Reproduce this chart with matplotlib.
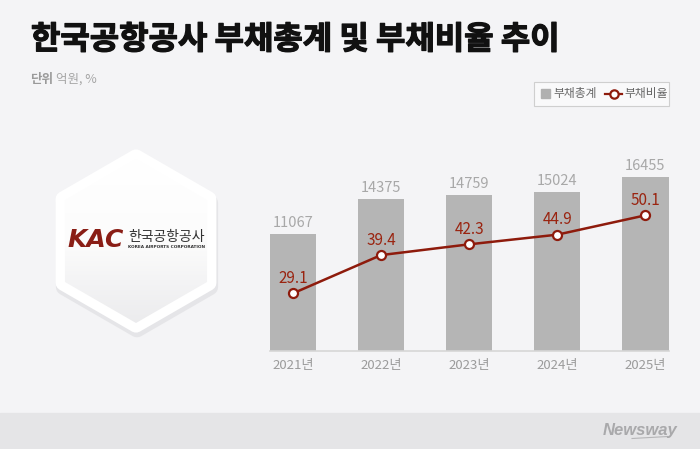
import matplotlib
matplotlib.use("Agg")
import matplotlib.pyplot as plt
import matplotlib.patheffects as pe
import numpy as np
from matplotlib.patches import Polygon, Rectangle
from matplotlib.lines import Line2D

plt.rcParams['font.family'] = ['Noto Sans CJK KR', 'DejaVu Sans']

years = ['2021년', '2022년', '2023년', '2024년', '2025년']
debt_total = [11067, 14375, 14759, 15024, 16455]
debt_ratio = [29.1, 39.4, 42.3, 44.9, 50.1]
title = '한국공항공사 부채총계 및 부채비율 추이'

W, H = 700, 449
BG = '#f4f4f6'
BAR = '#b5b5b5'
RED = '#8e1b0c'
RED_TXT = '#9a2410'

fig = plt.figure(figsize=(W / 100, H / 100), dpi=100, facecolor=BG)

# background axes in pixel coordinates
bg = fig.add_axes([0, 0, 1, 1])
bg.set_xlim(0, W)
bg.set_ylim(H, 0)
bg.axis('off')
bg.set_facecolor(BG)

# footer band
bg.add_patch(Rectangle((0, 413), W, 36, color='#e5e5e7', zorder=0))
bg.text(640, 430, 'Newsway', fontsize=12, color='#a9a9ab', style='italic',
        weight='bold', family=['Liberation Sans'], ha='center', va='center')
bg.add_line(Line2D([632, 668], [438.5, 436.5], color='#b5b5b7', lw=0.8))

# title
bg.text(31, 40, title, fontsize=23, weight='black', color='#111111',
        ha='left', va='center',
        path_effects=[pe.Stroke(linewidth=0.9, foreground='#111111'), pe.Normal()])
bg.text(30, 79, '단위', fontsize=9, weight='bold', color='#9a9a9a',
        ha='left', va='center')
bg.text(56, 79, '억원, %', fontsize=9, color='#a5a5a5', ha='left', va='center')

# legend box
bg.add_patch(Rectangle((534, 82), 135, 24, facecolor='#f9f9fa', edgecolor='#cfcfcf',
                       lw=0.8, zorder=1))
bg.add_patch(Rectangle((541, 89), 9, 9, color='#b0b0b0', zorder=2))
bg.text(553, 93.5, '부채총계', fontsize=8.5, color='#666666', ha='left', va='center')
bg.add_line(Line2D([605, 622], [93.5, 93.5], color=RED, lw=1.6, zorder=2))
bg.plot([613.5], [93.5], marker='o', ms=6, mfc='white', mec=RED, mew=1.6, zorder=3)
bg.text(624, 93.5, '부채비율', fontsize=8.5, color='#666666', ha='left', va='center')

# hexagon logo badge
cx, cy, R = 136, 241, 84
ang = np.deg2rad(np.arange(6) * 60 + 90)
hx = cx + R * np.cos(ang)
hy = cy - R * np.sin(ang)
# shadow
bg.add_patch(Polygon(np.c_[hx + 1, hy + 4], closed=True, facecolor='#dcdcdf',
                     edgecolor='#dcdcdf', lw=12, joinstyle='round', zorder=1, alpha=0.6))
bg.add_patch(Polygon(np.c_[hx, hy], closed=True, facecolor='white',
                     edgecolor='white', lw=11, joinstyle='round', zorder=2))
# inner gradient
Ri = R - 2
inner = Polygon(np.c_[cx + Ri * np.cos(ang), cy - Ri * np.sin(ang)],
                closed=True, facecolor='none', edgecolor='none', zorder=3)
bg.add_patch(inner)
grad = np.linspace(0, 1, 256).reshape(-1, 1)
cmap = matplotlib.colors.LinearSegmentedColormap.from_list(
    'g', ['#ffffff', '#fcfcfc', '#ebebed'])
im = bg.imshow(grad, extent=(cx - R, cx + R, cy + R, cy - R), cmap=cmap,
               aspect='auto', zorder=3, interpolation='bilinear')
im.set_clip_path(inner)
bg.set_xlim(0, W)
bg.set_ylim(H, 0)

bg.text(95.5, 240, 'KAC', fontsize=18, weight='heavy', style='italic', color='#8a1e16',
        family=['DejaVu Sans'], ha='center', va='center', zorder=5)
bg.text(166.5, 237.5, '한국공항공사', fontsize=10, weight='medium', color='#333333',
        ha='center', va='center', zorder=5)
bg.text(166.5, 247.5, 'KOREA AIRPORTS CORPORATION', fontsize=3.1, color='#333333',
        family=['DejaVu Sans'], weight='bold', ha='center', va='center', zorder=5)

# chart axes: x pixels 270..669, y pixels 140..351
x0, x1, ytop, ybot = 270, 669, 140, 351
ax = fig.add_axes([x0 / W, (H - ybot) / H, (x1 - x0) / W, (ybot - ytop) / H])
ax.patch.set_alpha(0)
x = np.arange(len(years))
ax.bar(x, debt_total, width=0.53, color=BAR, zorder=2)
ax.set_xlim(-0.261, 4.27)
ax.set_ylim(0, 19962)
for s in ['top', 'right', 'left']:
    ax.spines[s].set_visible(False)
ax.spines['bottom'].set_color('#d6d6d6')
ax.spines['bottom'].set_linewidth(1.2)
ax.set_yticks([])
ax.set_xticks(x)
ax.set_xticklabels(years, fontsize=9.5, color='#9b9b9b')
ax.tick_params(axis='x', length=0, pad=6)
for xi, v in zip(x, debt_total):
    ax.text(xi, v + 350, f'{v}', fontsize=10.5, color='#a8a8a8',
            ha='center', va='bottom')

ax2 = ax.twinx()
ax2.patch.set_alpha(0)
ax2.set_ylim(13.57, 70.4)
ax2.axis('off')
ax2.plot(x, debt_ratio, color=RED, lw=1.8, marker='o', ms=6.5, mfc='white',
         mec=RED, mew=1.6, zorder=4)
for xi, v in zip(x, debt_ratio):
    ax2.text(xi, v + 1.7, f'{v}', fontsize=11, color=RED_TXT,
             ha='center', va='bottom')

fig.savefig('out.png', dpi=100, facecolor=BG)
